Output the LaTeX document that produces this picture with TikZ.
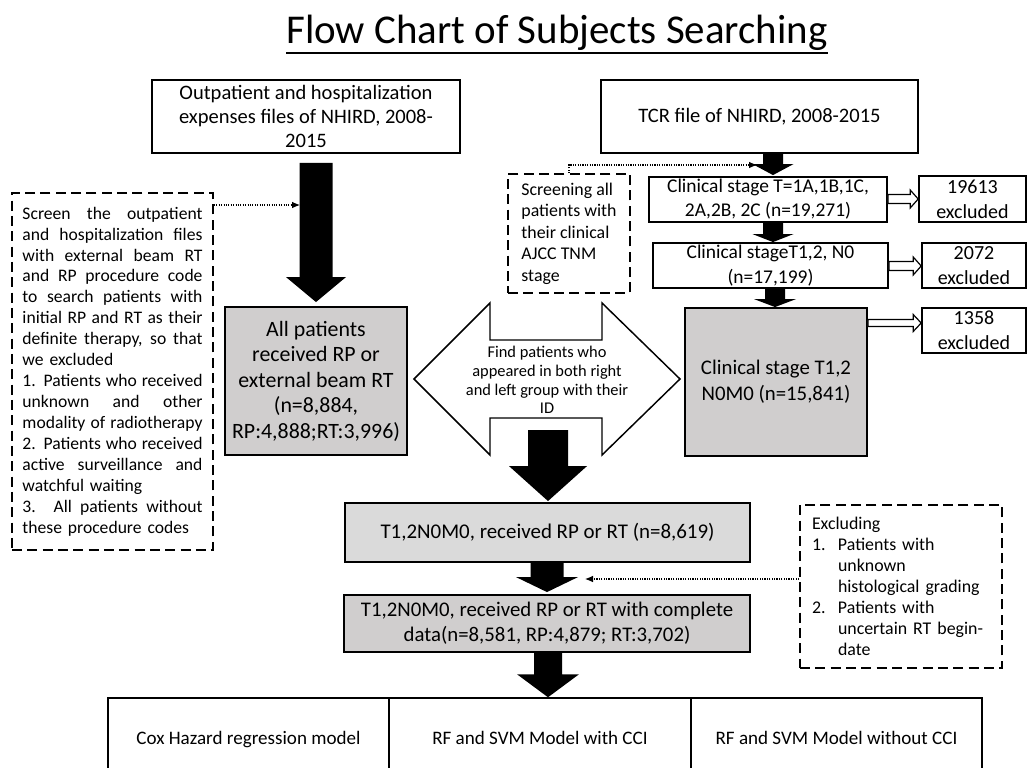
\documentclass[tikz,border=0pt]{standalone}
\usepackage{fontspec}
\setmainfont{Carlito}
\usetikzlibrary{calc,arrows.meta}
\definecolor{boxgray}{RGB}{208,206,206}
\definecolor{boxgrayb}{RGB}{218,218,218}
\newcommand\fsz[2]{\fontsize{#1}{#2}\selectfont}
\newcommand\jl[1]{{\spaceskip=0pt\xspaceskip=0pt\makebox[135pt][s]{#1}}}
% rectangle node from pixel corners
\newcommand\rbox[7]{\node[#6, minimum width={(#4-#2)*0.75pt}, minimum height={(#5-#3)*0.75pt}] (#1) at ({(#2+#4)/2},{(#3+#5)/2}) {#7};}
% black block arrow, vertical: x px, from, to, start gap, end gap, shaft half, head half, head length
\newcommand\barrow[8]{\fill let \p1=(#2), \p2=(#3), \p3=(#1,0) in
  ({\x3-#6*0.75pt},{\y1-#4*0.75pt}) -- ({\x3+#6*0.75pt},{\y1-#4*0.75pt}) --
  ({\x3+#6*0.75pt},{\y2+#5*0.75pt+#8*0.75pt}) -- ({\x3+#7*0.75pt},{\y2+#5*0.75pt+#8*0.75pt}) --
  (\x3,{\y2+#5*0.75pt}) --
  ({\x3-#7*0.75pt},{\y2+#5*0.75pt+#8*0.75pt}) -- ({\x3-#6*0.75pt},{\y2+#5*0.75pt+#8*0.75pt}) -- cycle;}
% hollow horizontal arrow: from, to, y px, shaft half, head half, head length
\newcommand\hollowarr[6]{\draw[line width=0.9pt, fill=white, line join=miter] let \p1=(#1), \p2=(#2), \p3=(0,#3) in
  (\x1,{\y3+#4*0.75pt}) -- ({\x2-#6*0.75pt},{\y3+#4*0.75pt}) -- ({\x2-#6*0.75pt},{\y3+#5*0.75pt}) --
  (\x2,\y3) -- ({\x2-#6*0.75pt},{\y3-#5*0.75pt}) -- ({\x2-#6*0.75pt},{\y3-#4*0.75pt}) -- (\x1,{\y3-#4*0.75pt}) -- cycle;}
\begin{document}
\begin{tikzpicture}[x=0.75pt,y=-0.75pt,
  box/.style={draw, line width=1.4pt, inner sep=0pt, align=center, font=\fsz{15.4}{18}},
  gbox/.style={box, fill=boxgray},
  exbox/.style={draw, line width=1.2pt, inner sep=0pt, align=center, font=\fsz{15}{18.75}},
  dbox/.style={draw, dash pattern=on 7.5pt off 4pt, line width=1.3pt, inner sep=0pt},
  dotarr/.style={densely dotted, line width=0.8pt, -{Latex[length=6pt,width=5pt]}},
  plainbox/.style={draw, line width=1.1pt, inner sep=0pt, align=center, font=\fsz{14.3}{17}}]
\useasboundingbox (0,0) rectangle (1029,768);

% title
\node[font=\fsz{30.7}{36}, anchor=base, inner sep=0pt] (title) at (557,43) {Flow Chart of Subjects Searching};
\draw[line width=1.5pt] ($(title.base west)+(0,10)$) -- ($(title.base east)+(0,10)$);

% left column
\rbox{src1}{152}{80}{460}{153}{box}{Outpatient and hospitalization\\expenses files of NHIRD, 2008-\\2015}
\rbox{allp}{225}{307}{407}{455}{gbox, font=\fsz{16.4}{19.1}}{All patients\\received RP or\\external beam RT\\(n=8,884,\\RP:4,888;RT:3,996)}
\rbox{ldash}{12}{193}{213}{550}{dbox, inner xsep=7.9pt, text width=135pt, align=left, font=\fsz{13.2}{15.7}}{%
\jl{Screen the outpatient}\\
\jl{and hospitalization files}\\
\jl{with external beam RT}\\
\jl{and RP procedure code}\\
\jl{to search patients with}\\
\jl{initial RP and RT as their}\\
\jl{definite therapy, so that}\\
we excluded\\
\jl{1. Patients who received}\\
\jl{unknown and other}\\
\jl{modality of radiotherapy}\\
\jl{2. Patients who received}\\
\jl{active surveillance and}\\
watchful waiting\\
\jl{3. All patients without}\\
these procedure codes}

% right column
\rbox{tcr}{601}{80}{918}{153}{box}{TCR file of NHIRD, 2008-2015}
\rbox{scr}{508}{174}{630}{293}{dbox, align=left, font=\fsz{13.4}{16.1}}{Screening all\\patients with\\their clinical\\AJCC TNM\\stage}
\rbox{tst}{649}{177}{887}{222}{box, font=\fsz{14.6}{18}}{Clinical stage T=1A,1B,1C,\\2A,2B, 2C (n=19,271)}
\rbox{nst}{653}{243}{888}{288}{box, font=\fsz{14.6}{18.5}}{Clinical stageT1,2, N0\\(n=17,199)}
\rbox{gst}{685}{308}{867}{456}{gbox, font=\fsz{15.6}{19.5}}{Clinical stage T1,2\\N0M0 (n=15,841)}
\rbox{ex1}{919}{176}{1026}{222}{exbox}{19613\\excluded}
\rbox{ex2}{922}{243}{1026}{288}{exbox}{2072\\excluded}
\rbox{ex3}{922}{308}{1026}{353}{exbox}{1358\\excluded}

% double block arrow
\draw[line width=1.1pt, fill=white, line join=miter] (414,379) -- (490,303) -- (490,340) -- (602,340) -- (602,303) -- (680,379)
  -- (602,455) -- (602,418) -- (490,418) -- (490,455) -- cycle;
\node[align=center, inner sep=0pt, font=\fsz{12.3}{14}] (dbl) at (547,380) {Find patients who\\appeared in both right\\and left group with their\\ID};

% lower boxes
\rbox{r1}{345}{503}{750}{562}{box, fill=boxgrayb, font=\fsz{15.7}{18}}{T1,2N0M0, received RP or RT (n=8,619)}
\rbox{r2}{344}{595}{750}{652}{box, fill=boxgray, font=\fsz{15.6}{18.75}}{T1,2N0M0, received RP or RT with complete\\data(n=8,581, RP:4,879; RT:3,702)}
\rbox{exc}{800}{505}{1002}{668}{dbox, inner xsep=9pt, text width=133.5pt, align=left, font=\fsz{13.4}{15.8}}{%
Excluding\\
\makebox[19.5pt][l]{1.}Patients with\\
\hspace*{19.5pt}unknown\\
\hspace*{19.5pt}histological grading\\
\makebox[19.5pt][l]{2.}Patients with\\
\hspace*{19.5pt}uncertain RT begin-\\
\hspace*{19.5pt}date}

% bottom row
\rbox{m1}{108}{698}{389}{782}{plainbox}{\strut Cox Hazard regression model}
\rbox{m2}{389}{698}{691}{782}{plainbox}{\strut RF and SVM Model with CCI}
\rbox{m3}{691}{698}{982}{782}{plainbox}{\strut RF and SVM Model without CCI}

% black block arrows
\barrow{316}{src1.south}{allp.north}{9}{4}{16.5}{30}{25}
\barrow{773}{tcr.south}{tst.north}{0}{1}{10}{20.5}{11}
\barrow{773}{tst.south}{nst.north}{0}{0}{10}{20.5}{8}
\barrow{775}{nst.south}{gst.north}{0}{0}{10}{21}{8}
\barrow{548}{dbl.center}{r1.north}{50}{1}{20}{39}{35}
\barrow{547}{r1.south}{r2.north}{0}{2}{16.5}{31}{15}
\barrow{548}{r2.south}{m2.north}{0}{0}{14}{31}{23}

% hollow arrows
\hollowarr{tst.east}{ex1.west}{199}{4.5}{9}{8}
\hollowarr{nst.east}{ex2.west}{266}{4.5}{9}{8}
\hollowarr{gst.east}{ex3.west}{323}{3.5}{8.5}{8}

% dotted arrows
\coordinate (d1) at (300,205);
\coordinate (d2) at (757,165);
\coordinate (d3) at (585,579);
\draw[dotarr] (ldash.east |- d1) -- (d1);
\draw[dotarr] (scr.north) |- (d2);
\draw[dotarr] (exc.west |- d3) -- (d3);
\end{tikzpicture}
\end{document}
